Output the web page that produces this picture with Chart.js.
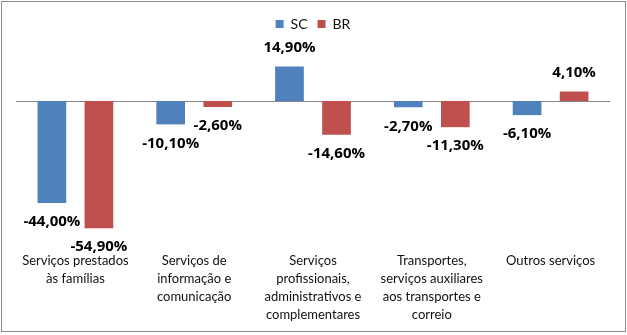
<!DOCTYPE html>
<html>
<head>
<meta charset="utf-8">
<script src="https://cdn.jsdelivr.net/npm/chart.js@4.4.1/dist/chart.umd.min.js"></script>
<style>
  html, body { margin: 0; padding: 0; background: #fff; }
  #wrap { position: relative; width: 627px; height: 335px; }
  #frame { position: absolute; left: 1px; top: 1px; width: 623px; height: 329px; border: 1px solid #8c8c8c; pointer-events: none; }
  canvas { position: absolute; left: 0; top: 0; }
</style>
</head>
<body>
<div id="wrap">
  <canvas id="c" width="627" height="335"></canvas>
  <div id="frame"></div>
</div>
<script>
const categories = [
  ["Serviços prestados", "às famílias"],
  ["Serviços de", "informação e", "comunicação"],
  ["Serviços", "profissionais,", "administrativos e", "complementares"],
  ["Transportes,", "serviços auxiliares", "aos transportes e", "correio"],
  ["Outros serviços"]
];
const seriesNames = ["SC", "BR"];
const scValues = [-44.0, -10.1, 14.9, -2.7, -6.1];
const brValues = [-54.9, -2.6, -14.6, -11.3, 4.1];
const seriesColors = ["#4F81BD", "#C0504D"];

const zeroLinePlugin = {
  id: 'zeroLine',
  beforeDatasetsDraw(chart) {
    const {ctx, chartArea} = chart;
    const y = Math.round(chart.scales.y.getPixelForValue(0)) + 0.5;
    ctx.save();
    ctx.strokeStyle = '#868686';
    ctx.lineWidth = 1;
    ctx.beginPath();
    ctx.moveTo(chartArea.left, y);
    ctx.lineTo(chartArea.right, y);
    ctx.stroke();
    ctx.restore();
  }
};

const valueLabelPlugin = {
  id: 'valueLabels',
  afterDatasetsDraw(chart) {
    const {ctx} = chart;
    ctx.save();
    ctx.font = 'bold 15px "Open Sans"';
    ctx.fillStyle = '#000';
    ctx.textAlign = 'center';
    ctx.textBaseline = 'middle';
    chart.data.datasets.forEach((ds, di) => {
      const meta = chart.getDatasetMeta(di);
      meta.data.forEach((bar, i) => {
        const v = ds.data[i];
        const txt = v.toFixed(2).replace('.', ',') + '%';
        const y = v >= 0 ? bar.y - 19 : bar.y + 19;
        ctx.fillText(txt, bar.x, y);
      });
    });
    ctx.restore();
  }
};

new Chart(document.getElementById('c'), {
  type: 'bar',
  data: {
    labels: categories,
    datasets: [
      { label: seriesNames[0], data: scValues, backgroundColor: seriesColors[0] },
      { label: seriesNames[1], data: brValues, backgroundColor: seriesColors[1] }
    ]
  },
  options: {
    responsive: false,
    animation: false,
    devicePixelRatio: 1,
    categoryPercentage: 0.792,
    barPercentage: 0.61,
    layout: { padding: { top: 7, left: 16, right: 17, bottom: 0 } },
    plugins: {
      legend: {
        position: 'top',
        labels: {
          boxWidth: 8, boxHeight: 8, padding: 10,
          color: '#111',
          font: { family: 'Lato', size: 14 }
        }
      },
      tooltip: { enabled: false }
    },
    scales: {
      x: {
        grid: { display: false, drawTicks: false },
        border: { display: false },
        ticks: {
          color: '#111',
          padding: 12,
          maxRotation: 0,
          autoSkip: false,
          font: { family: 'Lato', size: 13, lineHeight: '18px' }
        },
        afterFit(scale) { scale.height = 95; }
      },
      y: {
        display: false,
        min: -60,
        max: 25.9
      }
    }
  },
  plugins: [zeroLinePlugin, valueLabelPlugin]
});
</script>
</body>
</html>
